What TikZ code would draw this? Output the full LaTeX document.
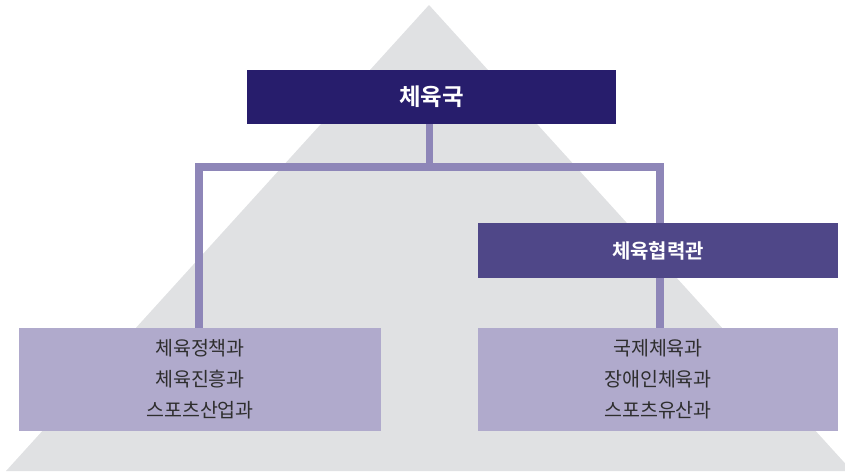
\documentclass[tikz,border=0pt]{standalone}
\usepackage{fontspec}
\setmainfont{Noto Sans CJK KR}[BoldFont={Noto Sans CJK KR Bold}]
\definecolor{navy}{HTML}{271D6C}
\definecolor{midp}{HTML}{4F4788}
\definecolor{lightp}{HTML}{B0AACC}
\definecolor{connc}{HTML}{8E86B8}
\definecolor{trig}{HTML}{E0E1E3}
\definecolor{txt}{HTML}{2E2E2E}
\begin{document}
\begin{tikzpicture}[x=1pt,y=-1pt,
  headbox/.style={rectangle,fill=navy,text=white,inner sep=0pt,font=\bfseries\fontsize{23.5}{26}\selectfont},
  subbox/.style={rectangle,fill=midp,text=white,inner sep=0pt,font=\bfseries\fontsize{20}{24}\selectfont},
  listbox/.style={rectangle,fill=lightp,text=txt,inner sep=0pt,align=center,font=\fontsize{19.5}{31}\selectfont},
  conn/.style={draw=connc,line width=7.5pt,line join=miter}]
\useasboundingbox (0,0) rectangle (845,473);
\begin{scope}
\clip (0,0) rectangle (845,473);
\fill[trig] (429,5) -- (6,471) -- (852,471) -- cycle;
\end{scope}
\node[headbox,minimum width=369pt,minimum height=54pt] (top) at (431.5,97) {체육국};
\node[subbox,minimum width=360pt,minimum height=55pt] (coop) at (658,250.5) {체육협력관};
\node[listbox,minimum width=362pt,minimum height=103pt] (left) at (200,379.5) {체육정책과\\체육진흥과\\스포츠산업과};
\node[listbox,minimum width=360pt,minimum height=103pt] (right) at (658,379.5) {국제체육과\\장애인체육과\\스포츠유산과};
\coordinate (jl) at (199,167);
\coordinate (jm) at (429.5,167);
\coordinate (jr) at (660,167);
\draw[conn] (top.south -| jm) -- ([yshift=3pt]jm);
\draw[conn] (left.north -| jl) -- (jl) -- (jr) -- (coop.north -| jr);
\draw[conn] (coop.south -| jr) -- (right.north -| jr);
\end{tikzpicture}
\end{document}
